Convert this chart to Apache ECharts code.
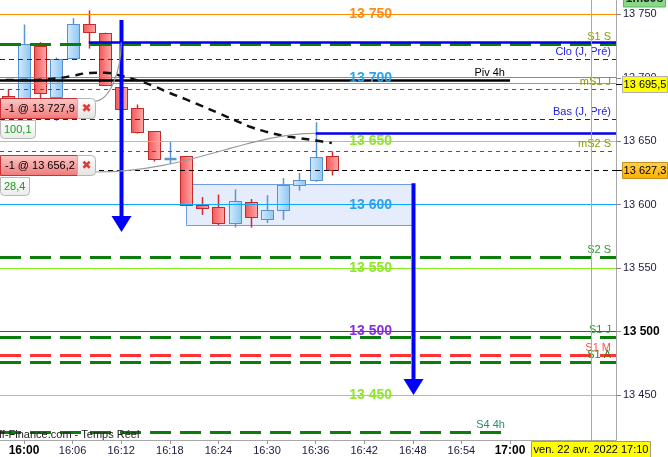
<!DOCTYPE html>
<html>
<head>
<meta charset="utf-8">
<script src="https://cdn.jsdelivr.net/npm/echarts@6/dist/echarts.min.js"></script>
<style>
html,body{margin:0;padding:0;background:#fff;}
#chart{width:668px;height:457px;}
</style>
</head>
<body>
<div id="chart"></div>
<script>
// bougies 2 minutes
var times  = ['15:58','16:00','16:02','16:04','16:06','16:08','16:10','16:12','16:14','16:16','16:18',
              '16:20','16:22','16:24','16:26','16:28','16:30','16:32','16:34','16:36','16:38'];
var opens  = [13686, 13677, 13725, 13685, 13715, 13742, 13735, 13693, 13676, 13658, 13636,
              13638, 13600, 13598, 13586, 13602, 13589, 13596, 13615.5, 13619.5, 13638];
var highs  = [13691, 13742, 13728, 13716, 13747, 13753, 13735.5, 13694, 13679, 13658, 13650,
              13638.5, 13606, 13608, 13612, 13604.5, 13607.5, 13621, 13625, 13665, 13642];
var lows   = [13672, 13672, 13684, 13666, 13714, 13723, 13693.5, 13676, 13656, 13634, 13632,
              13599, 13592, 13584, 13582, 13582, 13585.5, 13588, 13611, 13618, 13623];
var closes = [13676, 13727, 13688, 13715, 13742, 13736, 13694, 13676, 13657, 13636, 13636,
              13599.5, 13598, 13585.5, 13603, 13590, 13596, 13615.5, 13619.5, 13637.5, 13627.3];

// moyenne mobile
var maTimes  = ['15:56','15:58','16:00','16:02','16:04','16:06','16:08','16:10','16:12','16:14','16:16',
                '16:18','16:20','16:22','16:24','16:26','16:28','16:30','16:32','16:34','16:36','16:38'];
var maValues = [13698.5, 13698.3, 13698.2, 13698.5, 13699.5, 13701.5, 13703.8, 13704, 13701.6, 13698, 13693.5,
                13688, 13683, 13677.7, 13672.2, 13666.7, 13661.2, 13657.3, 13654.3, 13652.5, 13650.6, 13648.6];

// niveaux
var roundLevels   = [13750, 13700, 13650, 13600, 13550, 13500, 13450];
var pivotNames    = ['S1 S', 'mS1 J', 'mS2 S', 'S2 S', 'S1 J', 'S1 M', 'S1 A', 'S4 4h', 'Piv 4h'];
var pivotValues   = [13726.2, 13691, 13642, 13558.7, 13495.2, 13480.9, 13476, 13420.3, 13698];
var prevDayNames  = ['Clo (J, Pré)', 'Bas (J, Pré)'];
var prevDayValues = [13714.8, 13667.4];

// ordres
var orderLabels    = ['-1 @ 13 727,9', '-1 @ 13 656,2'];
var orderPrices    = [13727.9, 13656.2];
var orderTimes     = ['16:08', '16:36'];
var orderLinkTimes = ['16:12', '16:36'];
var orderGains     = ['100,1', '28,4'];

var lastPrice = 13627.3;
var refPrice  = 13695.5;

// dessins
var arrowTimes = ['16:12', '16:48'];
var arrowFrom  = [13745.5, 13617];
var arrowTo    = [13578.5, 13450];
var zoneTimes  = ['16:20', '16:48'];
var zonePrices = [13616.7, 13584];

var tickTimes = ['16:00','16:06','16:12','16:18','16:24','16:30','16:36','16:42','16:48','16:54','17:00','17:06','17:10','17:12'];
var labelTimes = ['16:00','16:06','16:12','16:18','16:24','16:30','16:36','16:42','16:48','16:54','17:00'];
var yTicks = [13450, 13500, 13550, 13600, 13650, 13700, 13750];
var nowTime = '17:10';
var dateLabel = 'ven. 22 avr. 2022 17:10';
var timerLabel = '1m30s';
var sourceLabel = 'ff-Finance.com - Temps Réel';

var FONT = '"Liberation Sans", Arial, sans-serif';
var X_MIN = -2.963, X_MAX = 73.09;
var Y_MIN = 13414.6, Y_MAX = 13761.3;
var LABEL_MIN = 42.8;

function toMin(s) { var p = s.split(':'); return (+p[0] - 16) * 60 + (+p[1]); }
function fmtMin(m) { var h = 16 + Math.floor(m / 60), mm = m % 60; return h + ':' + (mm < 10 ? '0' : '') + mm; }
function fmtPrice(v, dec) {
  var s = dec ? v.toFixed(1) : String(Math.round(v));
  var parts = s.split('.');
  var ip = parts[0];
  ip = ip.slice(0, ip.length - 3) + ' ' + ip.slice(-3);
  return ip + (parts[1] ? ',' + parts[1] : '');
}

var levelStyle = {
  13750: {line: '#ff8c00', text: '#ff8a1a'},
  13700: {line: '#2aa8f0', text: '#2aa3ec'},
  13650: {line: '#88ee22', text: '#8fe52a'},
  13600: {line: '#10a8ff', text: '#2aa3ec'},
  13550: {line: '#88ee22', text: '#8fe52a'},
  13500: {line: '#7a20d8', text: '#8a2be2'},
  13450: {line: '#88ee22', text: '#8fe52a'}
};
var thickDash = [21, 9];
var pivotStyle = {
  'S1 S':   {color: '#0a7d0a', width: 3, dash: thickDash, text: '#8c9a00'},
  'mS1 J':  {color: '#1f7a1f', width: 1, dash: [4, 4], text: '#8c9a00'},
  'mS2 S':  {color: '#1f7a1f', width: 1, dash: [4, 4], text: '#8c9a00'},
  'S2 S':   {color: '#0a7d0a', width: 3, dash: thickDash, text: '#2a9a2a'},
  'S1 J':   {color: '#0a7d0a', width: 3, dash: thickDash, text: '#2a9a2a'},
  'S1 M':   {color: '#ff3333', width: 3, dash: thickDash, text: '#ff4a4a'},
  'S1 A':   {color: '#0a7d0a', width: 3, dash: thickDash, text: '#1a8a1a'},
  'S4 4h':  {color: '#0a7d0a', width: 3, dash: thickDash, text: '#2a8a6a', end: '17:00'},
  'Piv 4h': {color: '#000000', width: 2.5, dash: null, text: '#000000', end: '17:00'}
};

// lignes horizontales
var hLines = [];
roundLevels.forEach(function (v) {
  hLines.push({v: v, from: X_MIN, to: X_MAX, color: levelStyle[v].line, width: 1});
});
hLines.push({v: refPrice, from: X_MIN, to: X_MAX, color: '#9a9a9a', width: 1});
pivotNames.forEach(function (n, i) {
  var s = pivotStyle[n];
  hLines.push({v: pivotValues[i], from: X_MIN, to: s.end ? toMin(s.end) : X_MAX, color: s.color,
               width: s.width, dash: s.dash, label: n, labelColor: s.text});
});
prevDayNames.forEach(function (n, i) {
  hLines.push({v: prevDayValues[i], from: X_MIN, to: X_MAX, color: '#1010f0', width: 1, dash: [5, 4],
               label: n, labelColor: '#2020e0'});
});
hLines.push({v: lastPrice, from: X_MIN, to: X_MAX, color: '#000', width: 1, dash: [5, 4]});
orderPrices.forEach(function (p, i) {
  hLines.push({v: p, from: toMin(orderTimes[i]), to: X_MAX, color: '#0000ee', width: 2.5});
});

var candleData = times.map(function (t, i) { return [toMin(t), opens[i], closes[i], lows[i], highs[i]]; });
var maData = maTimes.map(function (t, i) { return [toMin(t), maValues[i]]; });

function crisp(y, w) { return (Math.round(w) % 2 === 1) ? Math.round(y - 0.5) + 0.5 : Math.round(y); }

var chart = echarts.init(document.getElementById('chart'));

var option = {
  animation: false,
  grid: {left: 0, right: 52, top: 0, bottom: 17, containLabel: false, outerBoundsMode: 'none'},
  xAxis: {
    type: 'value', min: X_MIN, max: X_MAX,
    splitLine: {show: false},
    axisLine: {onZero: false, lineStyle: {color: '#a8a8a8'}},
    axisTick: {customValues: tickTimes.map(toMin), length: 4, lineStyle: {color: '#999'}},
    axisLabel: {
      customValues: labelTimes.map(toMin), margin: 5, color: '#1a1a40', fontSize: 11, fontFamily: FONT,
      formatter: function (v) { var s = fmtMin(v); return (v % 60 === 0) ? '{b|' + s + '}' : s; },
      rich: {b: {fontWeight: 'bold', fontSize: 12, color: '#000', fontFamily: FONT}}
    }
  },
  yAxis: {
    type: 'value', position: 'right', min: Y_MIN, max: Y_MAX,
    splitLine: {show: false},
    axisLine: {show: true, onZero: false, lineStyle: {color: '#a8a8a8'}},
    axisTick: {show: true, customValues: yTicks, length: 5, lineStyle: {color: '#888'}},
    axisLabel: {
      customValues: yTicks, margin: 7, color: '#1a1a40', fontSize: 11, fontFamily: FONT,
      formatter: function (v) { var s = fmtPrice(v); return v === 13500 ? '{b|' + s + '}' : s; },
      rich: {b: {fontWeight: 'bold', fontSize: 12, color: '#000', fontFamily: FONT}}
    }
  },
  series: [
    {
      name: 'zone', type: 'custom', z: 1,
      data: [[toMin(zoneTimes[0]), toMin(zoneTimes[1]), zonePrices[0], zonePrices[1]]],
      encode: {x: [0, 1], y: [2, 3]},
      renderItem: function (params, api) {
        var a = api.coord([api.value(0), api.value(2)]);
        var b = api.coord([api.value(1), api.value(3)]);
        return {type: 'rect', shape: {x: Math.round(a[0]) + 0.5, y: Math.round(a[1]) + 0.5,
                width: Math.round(b[0] - a[0]), height: Math.round(b[1] - a[1])},
                style: {fill: '#e5ecfb', stroke: '#6e9de6', lineWidth: 1}};
      },
      markLine: {
        silent: true, symbol: 'none', label: {show: false},
        lineStyle: {color: '#a8a8a8', width: 1, type: 'solid'},
        data: [{xAxis: toMin(nowTime)}]
      }
    },
    {
      name: 'bougies', type: 'custom', z: 2,
      data: candleData,
      encode: {x: 0, y: [1, 2, 3, 4]},
      renderItem: function (params, api) {
        var t = api.value(0), o = api.value(1), c = api.value(2), lo = api.value(3), hi = api.value(4);
        var pO = api.coord([t, o]), pC = api.coord([t, c]), pL = api.coord([t, lo]), pH = api.coord([t, hi]);
        var x = Math.round(pO[0]) + 0.5;
        var up = c >= o;
        var top = Math.min(pO[1], pC[1]), bot = Math.max(pO[1], pC[1]);
        var wick = up ? '#5b95d0' : '#d02a2a';
        var kids = [{type: 'line', shape: {x1: x, y1: pH[1], x2: x, y2: pL[1]}, style: {stroke: wick, lineWidth: 1.5}}];
        if (bot - top < 1.5) {
          kids.push({type: 'line', shape: {x1: x - 6, y1: top, x2: x + 6, y2: top}, style: {stroke: wick, lineWidth: 2.5}});
        } else {
          var fill = up
            ? new echarts.graphic.LinearGradient(0, 0, 1, 0, [{offset: 0, color: '#d3ebfd'}, {offset: 1, color: '#8cc6f2'}])
            : new echarts.graphic.LinearGradient(0, 0, 1, 0, [{offset: 0, color: '#f25656'}, {offset: 1, color: '#ffaaaa'}]);
          kids.push({type: 'rect', shape: {x: x - 6, y: Math.round(top) + 0.5, width: 12, height: Math.max(2, Math.round(bot - top))},
                     style: {fill: fill, stroke: up ? '#5a8fd0' : '#c42a2a', lineWidth: 1}});
        }
        return {type: 'group', children: kids};
      }
    },
    {
      name: 'niveaux', type: 'custom', z: 3,
      data: hLines.map(function (l) { return [l.from, l.to, l.v]; }),
      encode: {x: [0, 1], y: 2},
      renderItem: function (params, api) {
        var l = hLines[params.dataIndex];
        var p0 = api.coord([l.from, l.v]), p1 = api.coord([l.to, l.v]);
        var y = crisp(p0[1], l.width);
        var kids = [{type: 'line', shape: {x1: p0[0], y1: y, x2: p1[0], y2: y},
                     style: {stroke: l.color, lineWidth: l.width, lineDash: l.dash || null}}];
        if (l.label) {
          kids.push({type: 'text', x: p1[0] - 5, y: y - 2,
                     style: {text: l.label, fill: l.labelColor, font: '11px ' + FONT, align: 'right', verticalAlign: 'bottom'}});
        }
        return {type: 'group', children: kids};
      }
    },
    {
      name: 'MM', type: 'line', z: 4,
      data: maData, smooth: 0.4, showSymbol: false, silent: true,
      lineStyle: {color: '#111', width: 2.5, type: [8, 6]}
    },
    {
      name: 'etiquettes', type: 'custom', z: 5,
      data: roundLevels.map(function (v) { return [LABEL_MIN, v]; }),
      encode: {x: 0, y: 1},
      renderItem: function (params, api) {
        var v = api.value(1);
        var p = api.coord([api.value(0), v]);
        return {type: 'text', x: p[0], y: p[1],
                style: {text: fmtPrice(v), fill: levelStyle[v].text, font: 'bold 14px ' + FONT, align: 'center', verticalAlign: 'middle'}};
      }
    },
    {
      name: 'fleches', type: 'custom', z: 6,
      data: arrowTimes.map(function (t, i) { return [toMin(t), arrowFrom[i], arrowTo[i]]; }),
      encode: {x: 0, y: [1, 2]},
      renderItem: function (params, api) {
        var a = api.coord([api.value(0), api.value(1)]);
        var b = api.coord([api.value(0), api.value(2)]);
        var x = Math.round(a[0]) + 0.5;
        return {type: 'group', children: [
          {type: 'rect', shape: {x: x - 2, y: a[1], width: 4, height: b[1] - a[1] - 14}, style: {fill: '#0000ff'}},
          {type: 'polygon', shape: {points: [[x - 10, b[1] - 16], [x + 10, b[1] - 16], [x, b[1]]]}, style: {fill: '#0000ff'}}
        ]};
      }
    }
  ]
};
chart.setOption(option);

// éléments d'interface
var tagTops = [98, 155];
var gainWidths = [35, 29];
var linkStarts = [[95, 101], [95, 172]];
var g = [];
orderLabels.forEach(function (lab, i) {
  var top = tagTops[i];
  var end = chart.convertToPixel({gridIndex: 0}, [toMin(orderLinkTimes[i]), orderPrices[i]]);
  var s = linkStarts[i];
  var cp1 = i === 0 ? [s[0] + 14, s[1]] : [s[0] + 95, s[1]];
  var cp2 = i === 0 ? [end[0], end[1] + 30] : [end[0] - 70, end[1]];
  g.push({type: 'bezierCurve', z: 20, shape: {x1: s[0], y1: s[1], cpx1: cp1[0], cpy1: cp1[1], cpx2: cp2[0], cpy2: cp2[1], x2: end[0], y2: end[1]},
          style: {stroke: '#9a9a9a', lineWidth: 1.2, fill: null}});
  g.push({type: 'rect', z: 21, shape: {x: 0.5, y: top + 0.5, width: 77, height: 20},
          style: {fill: new echarts.graphic.LinearGradient(0, 0, 0, 1, [{offset: 0, color: '#ffcaca'}, {offset: 1, color: '#f07878'}]), stroke: '#c83232', lineWidth: 1}});
  g.push({type: 'text', z: 22, x: 5, y: top + 11, style: {text: lab, fill: '#000', font: '11px ' + FONT, verticalAlign: 'middle'}});
  g.push({type: 'rect', z: 21, shape: {x: 77.5, y: top + 0.5, width: 18, height: 20, r: [0, 4, 4, 0]},
          style: {fill: new echarts.graphic.LinearGradient(0, 0, 0, 1, [{offset: 0, color: '#ffffff'}, {offset: 1, color: '#e2e2e2'}]), stroke: '#b4b4b4', lineWidth: 1}});
  g.push({type: 'text', z: 22, x: 86.5, y: top + 11, style: {text: '✖', fill: '#e03a3a', font: 'bold 12px "DejaVu Sans"', align: 'center', verticalAlign: 'middle'}});
  g.push({type: 'rect', z: 21, shape: {x: 0.5, y: top + 22.5, width: gainWidths[i], height: 18, r: [0, 0, 4, 4]},
          style: {fill: new echarts.graphic.LinearGradient(0, 0, 0, 1, [{offset: 0, color: '#ffffff'}, {offset: 1, color: '#ebebeb'}]), stroke: '#b8b8b8', lineWidth: 1}});
  g.push({type: 'text', z: 22, x: 4, y: top + 32, style: {text: orderGains[i], fill: '#18a018', font: '11px ' + FONT, verticalAlign: 'middle'}});
});

function priceBox(price, fill, stroke) {
  var y = Math.round(chart.convertToPixel({yAxisIndex: 0}, price));
  g.push({type: 'line', z: 21, shape: {x1: 616, y1: y + 0.5, x2: 622, y2: y + 0.5}, style: {stroke: '#000', lineWidth: 1}});
  g.push({type: 'rect', z: 21, shape: {x: 622.5, y: y - 7.5, width: 45, height: 16}, style: {fill: fill, stroke: stroke, lineWidth: 1}});
  g.push({type: 'text', z: 22, x: 645, y: y + 1, style: {text: fmtPrice(price, true), fill: '#000', font: '11px ' + FONT, align: 'center', verticalAlign: 'middle'}});
}
priceBox(refPrice, '#ffff00', '#b0b0b0');
priceBox(lastPrice, new echarts.graphic.LinearGradient(0, 0, 0, 1, [{offset: 0, color: '#ffd24a'}, {offset: 1, color: '#ffae00'}]), '#c09020');

g.push({type: 'rect', z: 21, shape: {x: 623.5, y: -10, width: 42, height: 17}, style: {fill: '#88d888', stroke: '#5cb85c', lineWidth: 1}});
g.push({type: 'text', z: 22, x: 644.5, y: -1, style: {text: timerLabel, fill: '#222', font: 'bold 12px ' + FONT, align: 'center', verticalAlign: 'middle'}});

g.push({type: 'rect', z: 21, shape: {x: 531.5, y: 441.5, width: 119, height: 16}, style: {fill: '#ffff00', stroke: '#9a9a9a', lineWidth: 1}});
g.push({type: 'text', z: 22, x: 591, y: 450, style: {text: dateLabel, fill: '#000', font: '11px ' + FONT, align: 'center', verticalAlign: 'middle'}});

g.push({type: 'text', z: 19, x: -1, y: 435, style: {text: sourceLabel, fill: '#222', font: '11px ' + FONT, verticalAlign: 'middle'}});

chart.setOption({graphic: g});
</script>
</body>
</html>
